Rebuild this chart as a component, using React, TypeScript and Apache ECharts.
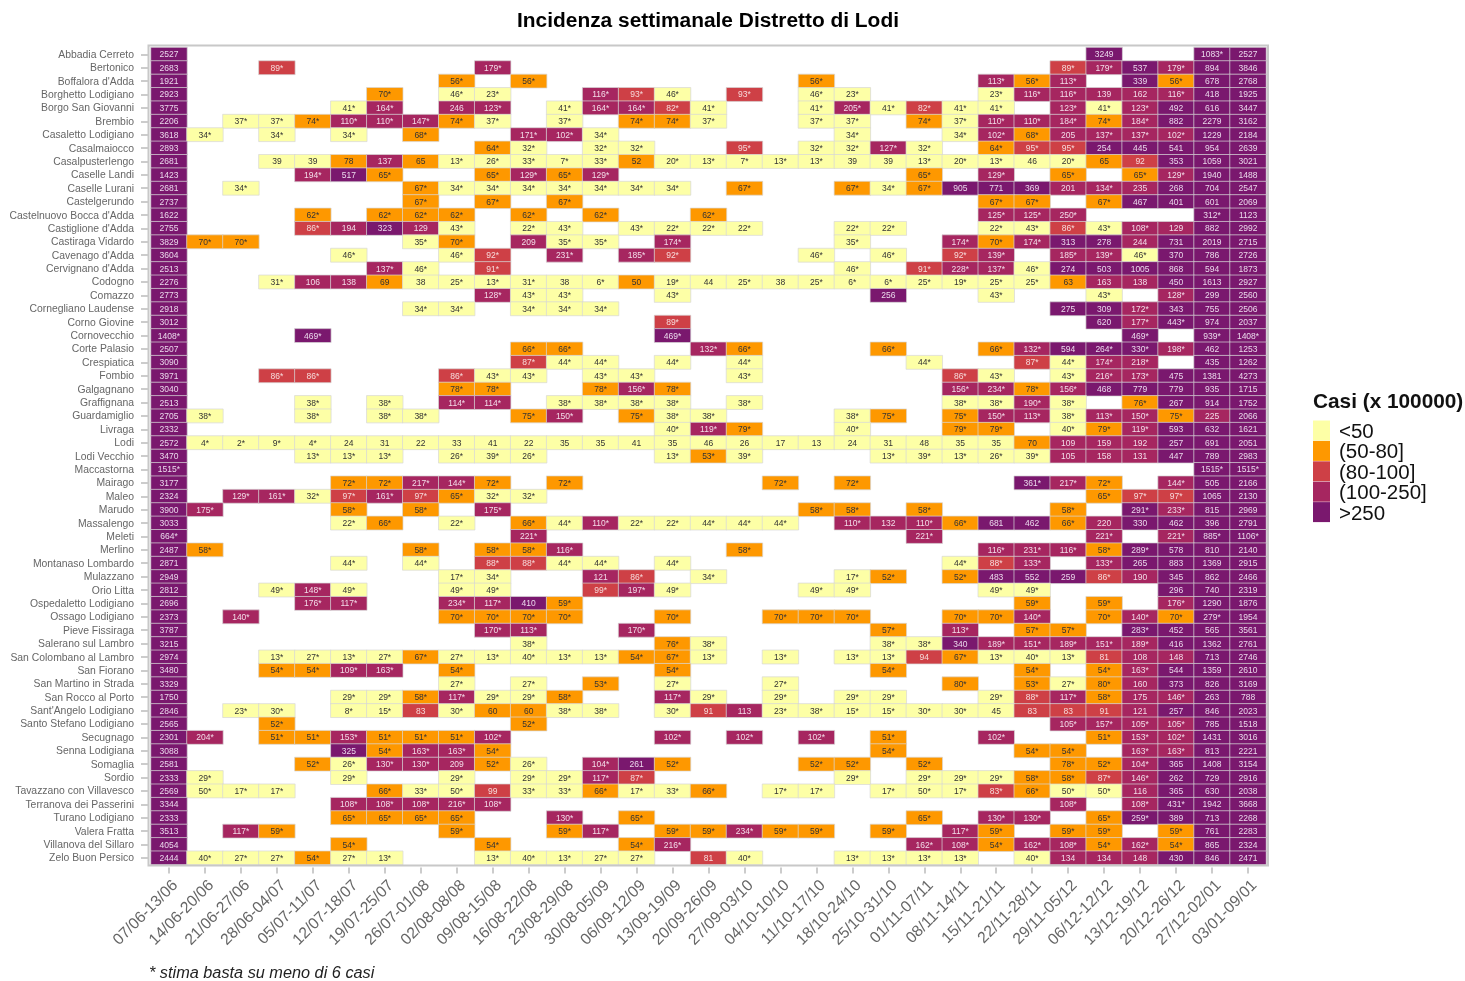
import React, { useEffect, useRef } from "react";
import * as echarts from "echarts";

const weeks = ["07/06-13/06","14/06-20/06","21/06-27/06","28/06-04/07","05/07-11/07","12/07-18/07","19/07-25/07","26/07-01/08","02/08-08/08","09/08-15/08","16/08-22/08","23/08-29/08","30/08-05/09","06/09-12/09","13/09-19/09","20/09-26/09","27/09-03/10","04/10-10/10","11/10-17/10","18/10-24/10","25/10-31/10","01/11-07/11","08/11-14/11","15/11-21/11","22/11-28/11","29/11-05/12","06/12-12/12","13/12-19/12","20/12-26/12","27/12-02/01","03/01-09/01"];

const comuni = ["Abbadia Cerreto","Bertonico","Boffalora d'Adda","Borghetto Lodigiano","Borgo San Giovanni","Brembio","Casaletto Lodigiano","Casalmaiocco","Casalpusterlengo","Caselle Landi","Caselle Lurani","Castelgerundo","Castelnuovo Bocca d'Adda","Castiglione d'Adda","Castiraga Vidardo","Cavenago d'Adda","Cervignano d'Adda","Codogno","Comazzo","Cornegliano Laudense","Corno Giovine","Cornovecchio","Corte Palasio","Crespiatica","Fombio","Galgagnano","Graffignana","Guardamiglio","Livraga","Lodi","Lodi Vecchio","Maccastorna","Mairago","Maleo","Marudo","Massalengo","Meleti","Merlino","Montanaso Lombardo","Mulazzano","Orio Litta","Ospedaletto Lodigiano","Ossago Lodigiano","Pieve Fissiraga","Salerano sul Lambro","San Colombano al Lambro","San Fiorano","San Martino in Strada","San Rocco al Porto","Sant'Angelo Lodigiano","Santo Stefano Lodigiano","Secugnago","Senna Lodigiana","Somaglia","Sordio","Tavazzano con Villavesco","Terranova dei Passerini","Turano Lodigiano","Valera Fratta","Villanova del Sillaro","Zelo Buon Persico"];

// one entry per comune: "weekIndex:printed value", weeks without cases left out
const incidenza = [
"0:2527 26:3249 29:1083* 30:2527",
"0:2683 3:89* 9:179* 25:89* 26:179* 27:537 28:179* 29:894 30:3846",
"0:1921 8:56* 10:56* 18:56* 23:113* 24:56* 25:113* 27:339 28:56* 29:678 30:2768",
"0:2923 6:70* 8:46* 9:23* 12:116* 13:93* 14:46* 16:93* 18:46* 19:23* 23:23* 24:116* 25:116* 26:139 27:162 28:116* 29:418 30:1925",
"0:3775 5:41* 6:164* 8:246 9:123* 11:41* 12:164* 13:164* 14:82* 15:41* 18:41* 19:205* 20:41* 21:82* 22:41* 23:41* 25:123* 26:41* 27:123* 28:492 29:616 30:3447",
"0:2206 2:37* 3:37* 4:74* 5:110* 6:110* 7:147* 8:74* 9:37* 11:37* 13:74* 14:74* 15:37* 18:37* 19:37* 21:74* 22:37* 23:110* 24:110* 25:184* 26:74* 27:184* 28:882 29:2279 30:3162",
"0:3618 1:34* 3:34* 5:34* 7:68* 10:171* 11:102* 12:34* 19:34* 22:34* 23:102* 24:68* 25:205 26:137* 27:137* 28:102* 29:1229 30:2184",
"0:2893 9:64* 10:32* 12:32* 13:32* 16:95* 18:32* 19:32* 20:127* 21:32* 23:64* 24:95* 25:95* 26:254 27:445 28:541 29:954 30:2639",
"0:2681 3:39 4:39 5:78 6:137 7:65 8:13* 9:26* 10:33* 11:7* 12:33* 13:52 14:20* 15:13* 16:7* 17:13* 18:13* 19:39 20:39 21:13* 22:20* 23:13* 24:46 25:20* 26:65 27:92 28:353 29:1059 30:3021",
"0:1423 4:194* 5:517 6:65* 9:65* 10:129* 11:65* 12:129* 21:65* 23:129* 25:65* 27:65* 28:129* 29:1940 30:1488",
"0:2681 2:34* 7:67* 8:34* 9:34* 10:34* 11:34* 12:34* 13:34* 14:34* 16:67* 19:67* 20:34* 21:67* 22:905 23:771 24:369 25:201 26:134* 27:235 28:268 29:704 30:2547",
"0:2737 7:67* 9:67* 11:67* 23:67* 24:67* 26:67* 27:467 28:401 29:601 30:2069",
"0:1622 4:62* 6:62* 7:62* 8:62* 10:62* 12:62* 15:62* 23:125* 24:125* 25:250* 29:312* 30:1123",
"0:2755 4:86* 5:194 6:323 7:129 8:43* 10:22* 11:43* 13:43* 14:22* 15:22* 16:22* 19:22* 20:22* 23:22* 24:43* 25:86* 26:43* 27:108* 28:129 29:882 30:2992",
"0:3829 1:70* 2:70* 7:35* 8:70* 10:209 11:35* 12:35* 14:174* 19:35* 22:174* 23:70* 24:174* 25:313 26:278 27:244 28:731 29:2019 30:2715",
"0:3604 5:46* 8:46* 9:92* 11:231* 13:185* 14:92* 18:46* 20:46* 22:92* 23:139* 25:185* 26:139* 27:46* 28:370 29:786 30:2726",
"0:2513 6:137* 7:46* 9:91* 19:46* 21:91* 22:228* 23:137* 24:46* 25:274 26:503 27:1005 28:868 29:594 30:1873",
"0:2276 3:31* 4:106 5:138 6:69 7:38 8:25* 9:13* 10:31* 11:38 12:6* 13:50 14:19* 15:44 16:25* 17:38 18:25* 19:6* 20:6* 21:25* 22:19* 23:25* 24:25* 25:63 26:163 27:138 28:450 29:1613 30:2927",
"0:2773 9:128* 10:43* 11:43* 14:43* 20:256 23:43* 26:43* 28:128* 29:299 30:2560",
"0:2918 7:34* 8:34* 10:34* 11:34* 12:34* 25:275 26:309 27:172* 28:343 29:755 30:2506",
"0:3012 14:89* 26:620 27:177* 28:443* 29:974 30:2037",
"0:1408* 4:469* 14:469* 27:469* 29:939* 30:1408*",
"0:2507 10:66* 11:66* 15:132* 16:66* 20:66* 23:66* 24:132* 25:594 26:264* 27:330* 28:198* 29:462 30:1253",
"0:3090 10:87* 11:44* 12:44* 14:44* 16:44* 21:44* 24:87* 25:44* 26:174* 27:218* 29:435 30:1262",
"0:3971 3:86* 4:86* 8:86* 9:43* 10:43* 12:43* 13:43* 16:43* 22:86* 23:43* 25:43* 26:216* 27:173* 28:475 29:1381 30:4273",
"0:3040 8:78* 9:78* 12:78* 13:156* 14:78* 22:156* 23:234* 24:78* 25:156* 26:468 27:779 28:779 29:935 30:1715",
"0:2513 4:38* 6:38* 8:114* 9:114* 11:38* 12:38* 13:38* 14:38* 16:38* 22:38* 23:38* 24:190* 25:38* 27:76* 28:267 29:914 30:1752",
"0:2705 1:38* 4:38* 6:38* 7:38* 10:75* 11:150* 13:75* 14:38* 15:38* 19:38* 20:75* 22:75* 23:150* 24:113* 25:38* 26:113* 27:150* 28:75* 29:225 30:2066",
"0:2332 14:40* 15:119* 16:79* 19:40* 22:79* 23:79* 25:40* 26:79* 27:119* 28:593 29:632 30:1621",
"0:2572 1:4* 2:2* 3:9* 4:4* 5:24 6:31 7:22 8:33 9:41 10:22 11:35 12:35 13:41 14:35 15:46 16:26 17:17 18:13 19:24 20:31 21:48 22:35 23:35 24:70 25:109 26:159 27:192 28:257 29:691 30:2051",
"0:3470 4:13* 5:13* 6:13* 8:26* 9:39* 10:26* 14:13* 15:53* 16:39* 20:13* 21:39* 22:13* 23:26* 24:39* 25:105 26:158 27:131 28:447 29:789 30:2983",
"0:1515* 29:1515* 30:1515*",
"0:3177 5:72* 6:72* 7:217* 8:144* 9:72* 11:72* 17:72* 19:72* 24:361* 25:217* 26:72* 28:144* 29:505 30:2166",
"0:2324 2:129* 3:161* 4:32* 5:97* 6:161* 7:97* 8:65* 9:32* 10:32* 26:65* 27:97* 28:97* 29:1065 30:2130",
"0:3900 1:175* 5:58* 7:58* 9:175* 18:58* 19:58* 21:58* 25:58* 27:291* 28:233* 29:815 30:2969",
"0:3033 5:22* 6:66* 8:22* 10:66* 11:44* 12:110* 13:22* 14:22* 15:44* 16:44* 17:44* 19:110* 20:132 21:110* 22:66* 23:681 24:462 25:66* 26:220 27:330 28:462 29:396 30:2791",
"0:664* 10:221* 21:221* 26:221* 28:221* 29:885* 30:1106*",
"0:2487 1:58* 7:58* 9:58* 10:58* 11:116* 16:58* 23:116* 24:231* 25:116* 26:58* 27:289* 28:578 29:810 30:2140",
"0:2871 5:44* 7:44* 9:88* 10:88* 11:44* 12:44* 14:44* 22:44* 23:88* 24:133* 26:133* 27:265 28:883 29:1369 30:2915",
"0:2949 8:17* 9:34* 12:121 13:86* 15:34* 19:17* 20:52* 22:52* 23:483 24:552 25:259 26:86* 27:190 28:345 29:862 30:2466",
"0:2812 3:49* 4:148* 5:49* 8:49* 9:49* 12:99* 13:197* 14:49* 18:49* 19:49* 23:49* 24:49* 28:296 29:740 30:2319",
"0:2696 4:176* 5:117* 8:234* 9:117* 10:410 11:59* 24:59* 26:59* 28:176* 29:1290 30:1876",
"0:2373 2:140* 8:70* 9:70* 10:70* 11:70* 14:70* 17:70* 18:70* 19:70* 22:70* 23:70* 24:140* 26:70* 27:140* 28:70* 29:279* 30:1954",
"0:3787 9:170* 10:113* 13:170* 20:57* 22:113* 24:57* 25:57* 27:283* 28:452 29:565 30:3561",
"0:3215 10:38* 14:76* 15:38* 20:38* 21:38* 22:340 23:189* 24:151* 25:189* 26:151* 27:189* 28:416 29:1362 30:2761",
"0:2974 3:13* 4:27* 5:13* 6:27* 7:67* 8:27* 9:13* 10:40* 11:13* 12:13* 13:54* 14:67* 15:13* 17:13* 19:13* 20:13* 21:94 22:67* 23:13* 24:40* 25:13* 26:81 27:108 28:148 29:713 30:2746",
"0:3480 3:54* 4:54* 5:109* 6:163* 8:54* 14:54* 20:54* 24:54* 26:54* 27:163* 28:544 29:1359 30:2610",
"0:3329 8:27* 10:27* 12:53* 14:27* 17:27* 22:80* 24:53* 25:27* 26:80* 27:160 28:373 29:826 30:3169",
"0:1750 5:29* 6:29* 7:58* 8:117* 9:29* 10:29* 11:58* 14:117* 15:29* 17:29* 19:29* 20:29* 23:29* 24:88* 25:117* 26:58* 27:175 28:146* 29:263 30:788",
"0:2846 2:23* 3:30* 5:8* 6:15* 7:83 8:30* 9:60 10:60 11:38* 12:38* 14:30* 15:91 16:113 17:23* 18:38* 19:15* 20:15* 21:30* 22:30* 23:45 24:83 25:83 26:91 27:121 28:257 29:846 30:2023",
"0:2565 3:52* 10:52* 25:105* 26:157* 27:105* 28:105* 29:785 30:1518",
"0:2301 1:204* 3:51* 4:51* 5:153* 6:51* 7:51* 8:51* 9:102* 14:102* 16:102* 18:102* 20:51* 23:102* 26:51* 27:153* 28:102* 29:1431 30:3016",
"0:3088 5:325 6:54* 7:163* 8:163* 9:54* 20:54* 24:54* 25:54* 27:163* 28:163* 29:813 30:2221",
"0:2581 4:52* 5:26* 6:130* 7:130* 8:209 9:52* 10:26* 12:104* 13:261 14:52* 18:52* 19:52* 21:52* 25:78* 26:52* 27:104* 28:365 29:1408 30:3154",
"0:2333 1:29* 5:29* 8:29* 10:29* 11:29* 12:117* 13:87* 19:29* 21:29* 22:29* 23:29* 24:58* 25:58* 26:87* 27:146* 28:262 29:729 30:2916",
"0:2569 1:50* 2:17* 3:17* 6:66* 7:33* 8:50* 9:99 10:33* 11:33* 12:66* 13:17* 14:33* 15:66* 17:17* 18:17* 20:17* 21:50* 22:17* 23:83* 24:66* 25:50* 26:50* 27:116 28:365 29:630 30:2038",
"0:3344 5:108* 6:108* 7:108* 8:216* 9:108* 25:108* 27:108* 28:431* 29:1942 30:3668",
"0:2333 5:65* 6:65* 7:65* 8:65* 11:130* 13:65* 21:65* 23:130* 24:130* 26:65* 27:259* 28:389 29:713 30:2268",
"0:3513 2:117* 3:59* 8:59* 11:59* 12:117* 14:59* 15:59* 16:234* 17:59* 18:59* 20:59* 22:117* 23:59* 25:59* 26:59* 28:59* 29:761 30:2283",
"0:4054 5:54* 9:54* 13:54* 14:216* 21:162* 22:108* 23:54* 24:162* 25:108* 26:54* 27:162* 28:54* 29:865 30:2324",
"0:2444 1:40* 2:27* 3:27* 4:54* 5:27* 6:13* 9:13* 10:40* 11:13* 12:27* 13:27* 15:81 16:40* 19:13* 20:13* 21:13* 22:13* 24:40* 25:134 26:134 27:148 28:430 29:846 30:2471",
];

const classLabels = ["<50", "(50-80]", "(80-100]", "(100-250]", ">250"];
const classColors = ["#FDFFA6", "#FE9800", "#CE4046", "#A62660", "#7A186E"];
const classLabelColors = ["#333333", "#333333", "#F6DADA", "#F3DCE8", "#EBD9EC"];

// "50*" is a rounded 49.8: the picture paints these cells in the lowest class
const numeric = (s: string) => (s === "50*" ? 49.8 : parseFloat(s));
const classOf = (v: number) => (v < 50 ? 0 : v <= 80 ? 1 : v <= 100 ? 2 : v <= 250 ? 3 : 4);

const cells: any[] = [];
incidenza.forEach((row, r) => {
  row.split(" ").forEach((tok) => {
    const [c, lab] = tok.split(":");
    const v = numeric(lab);
    cells.push({
      value: [Number(c), r, v, lab],
      label: { color: classLabelColors[classOf(v)] },
    });
  });
});

const FONT = "'Liberation Sans', Arial, sans-serif";

export default function App() {
  const ref = useRef<HTMLDivElement>(null);
  useEffect(() => {
    if (!ref.current) return;
    const chart = echarts.init(ref.current, undefined, { renderer: "svg" });
    chart.setOption({
      animation: false,
      backgroundColor: "#ffffff",
      textStyle: { fontFamily: FONT },
      title: {
        text: "Incidenza settimanale Distretto di Lodi",
        left: 703,
        top: 4,
        textAlign: "center",
        textStyle: { fontFamily: FONT, fontSize: 20.9, fontWeight: "bold", color: "#000000" },
      },
      grid: { left: 151, top: 47.6, width: 1115, height: 817, containLabel: false },
      xAxis: {
        type: "category",
        data: weeks,
        offset: 3,
        axisLine: { show: false },
        axisTick: { show: true, alignWithLabel: true, length: 6, lineStyle: { color: "#BBBBBB", width: 1.5 } },
        axisLabel: { rotate: 45, interval: 0, fontSize: 15.8, color: "#666666", margin: 9, verticalAlign: "top", fontFamily: FONT },
        splitLine: { show: false },
      },
      yAxis: {
        type: "category",
        data: comuni,
        inverse: true,
        offset: 3,
        axisLine: { show: false },
        axisTick: { show: true, alignWithLabel: true, length: 7, lineStyle: { color: "#BBBBBB", width: 1.5 } },
        axisLabel: { interval: 0, fontSize: 10.4, color: "#666666", margin: 14, padding: [1.5, 0, 0, 0], fontFamily: FONT },
        splitLine: { show: false },
      },
      visualMap: {
        type: "piecewise",
        dimension: 2,
        seriesIndex: 0,
        orient: "vertical",
        inverse: true,
        left: 1298,
        top: 405,
        itemWidth: 17,
        itemHeight: 20,
        itemGap: -0.6,
        itemSymbol: "rect",
        textGap: 9,
        selectedMode: false,
        hoverLink: false,
        align: "left",
        textStyle: { fontSize: 20.5, color: "#111111", fontFamily: FONT },
        pieces: [
          { lt: 50, label: classLabels[0], color: classColors[0] },
          { gte: 50, lte: 80, label: classLabels[1], color: classColors[1] },
          { gt: 80, lte: 100, label: classLabels[2], color: classColors[2] },
          { gt: 100, lte: 250, label: classLabels[3], color: classColors[3] },
          { gt: 250, label: classLabels[4], color: classColors[4] },
        ],
      },
      graphic: [
        {
          type: "rect",
          silent: true,
          z: 10,
          shape: { x: 148.5, y: 45.5, width: 1119.5, height: 820 },
          style: { fill: "none", stroke: "#C8C8C8", lineWidth: 2 },
        },
        {
          type: "text",
          silent: true,
          x: 1313,
          y: 390,
          style: { text: "Casi (x 100000)", fontFamily: FONT, fontSize: 20.8, fontWeight: "bold", fill: "#111111" },
        },
        {
          type: "text",
          silent: true,
          x: 149,
          y: 964,
          style: { text: "* stima basta su meno di 6 casi", fontFamily: FONT, fontSize: 16.3, fontStyle: "italic", fill: "#222222" },
        },
      ],
      series: [
        {
          type: "heatmap",
          silent: true,
          data: cells,
          encode: { x: 0, y: 1 },
          itemStyle: { borderColor: "rgba(215,215,215,0.7)", borderWidth: 1 },
          label: {
            show: true,
            fontSize: 8.5,
            fontFamily: FONT,
            formatter: (p: any) => p.value[3],
          },
        },
      ],
    });
    return () => chart.dispose();
  }, []);
  return <div ref={ref} style={{ position: "absolute", left: 0, top: 0, width: 1465, height: 981, filter: "blur(0.45px)" }} />;
}
